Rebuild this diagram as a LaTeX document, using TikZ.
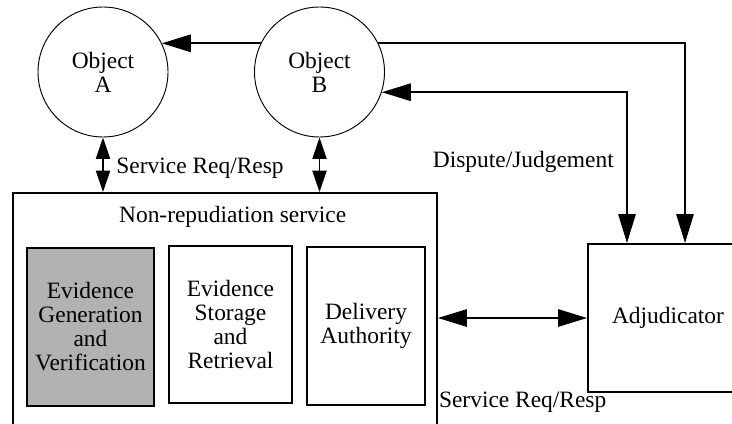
\documentclass[tikz,border=0pt]{standalone}
\usepackage{fontspec}
\setmainfont{Liberation Serif}
\usetikzlibrary{arrows.meta,backgrounds}
\begin{document}
\begin{tikzpicture}[
    font=\fontsize{20}{20.5}\selectfont,
    obj/.style={circle, draw, line width=0.8pt, fill=white, minimum size=3.9cm, inner sep=0pt, align=center},
    blk/.style={draw, line width=1.6pt, inner sep=0pt, align=center},
    link/.style={line width=1.6pt, {Triangle[length=0.87cm,width=0.52cm]}-{Triangle[length=0.87cm,width=0.52cm]}},
    req/.style={line width=1.6pt, {Triangle[length=0.64cm,width=0.42cm]}-{Triangle[length=0.64cm,width=0.42cm]}}
  ]
      \clip (0,0) rectangle (21.96,12.69);

      % the two objects
      \node[obj] (A) at (3.09,10.53) {Object\\A};
      \node[obj] (B) at (9.585,10.53) {Object\\B};

      % the service and its parts
      \node[blk, minimum width=12.72cm, minimum height=7.4cm] (nrs) at (6.75,3.2) {};
      \node (title) at (6.98,6.18) {Non-repudiation service};
      \node[blk, fill=black!30, minimum width=3.81cm, minimum height=4.74cm] (egv) at (2.715,2.88) {Evidence\\Generation\\and\\Verification};
      \node[blk, minimum width=3.69cm, minimum height=4.71cm] (esr) at (6.915,2.955) {Evidence\\Storage\\and\\Retrieval};
      \node[blk, minimum width=3.54cm, minimum height=4.74cm] (da) at (10.98,2.91) {Delivery\\Authority};

      \node[blk, minimum width=4.8cm, minimum height=4.44cm] (adj) at (20.04,3.15) {Adjudicator};

      \coordinate (topx) at (20.55,0);
      \coordinate (djx) at (18.81,0);

      \begin{scope}[on background layer]
        \draw[link] (A.26) -| (topx |- adj.north);
      \end{scope}
      \draw[link] (B.-18) -| (djx |- adj.north);
      \draw[link] (nrs.east |- adj.west) -- (adj.west);

      \draw[req] (A.south) -- (A.south |- nrs.north);
      \draw[req] (B.south) -- (B.south |- nrs.north);

      \node (sr1) at (6.0,7.65) {Service Req/Resp};
      \node (dj) at (15.7,7.83) {Dispute/Judgement};
      \node (sr2) at (15.68,0.63) {Service Req/Resp};
\end{tikzpicture}
\end{document}
